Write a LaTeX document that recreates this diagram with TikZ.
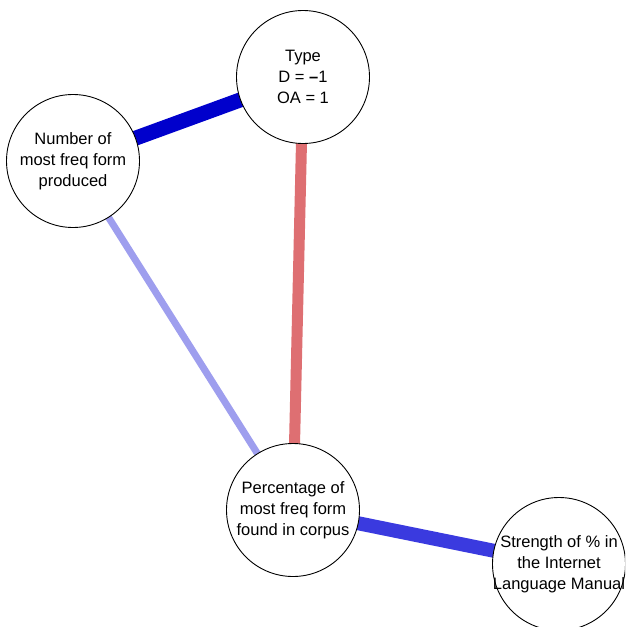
\documentclass[tikz,border=0pt]{standalone}
\usepackage{fontspec}
\setmainfont{Liberation Sans}
\newcommand{\ovl}[1]{\makebox[0pt]{#1}}
\begin{document}
\begin{tikzpicture}[x=1pt,y=-1pt,
  vnode/.style={circle,draw=black,line width=0.9pt,fill=white,minimum size=133pt,inner sep=0pt,
    align=center,font=\fontsize{16.5}{20.8}\selectfont},
  link/.style={line cap=butt}]
\definecolor{darkblue}{HTML}{0000CC}
\definecolor{midblue}{HTML}{3A3ADF}
\definecolor{lightblue}{HTML}{9E9EEE}
\definecolor{salmon}{HTML}{DE6F72}
\useasboundingbox (0,0) rectangle (625,627);
\begin{scope}
\clip (0,0) rectangle (625,627);
% node positions
\coordinate (cT) at (303,77);
\coordinate (cN) at (73,161);
\coordinate (cP) at (293,510);
\coordinate (cS) at (559,564);
% connectors, underneath the circles
\draw[link,darkblue,line width=15pt] (cN) -- (cT);
\draw[link,salmon,line width=11pt] (cT) -- (cP);
\draw[link,lightblue,line width=7pt] (cN) -- (cP);
\draw[link,midblue,line width=14pt] (cP) -- (cS);
% variables
\node[vnode] (type) at (cT) {Type\\D = \textbf{--}1\\OA = 1};
\node[vnode] (num) at (cN) {Number of\\most freq form\\produced};
\node[vnode] (pct) at (cP) {Percentage of\\most freq form\\found in corpus};
% the last label is wider than its circle and runs over the outline
\node[vnode] (str) at (cS) {\ovl{Strength of \% in}\\\ovl{the Internet}\\\ovl{Language Manual}};
\end{scope}
\end{tikzpicture}
\end{document}
